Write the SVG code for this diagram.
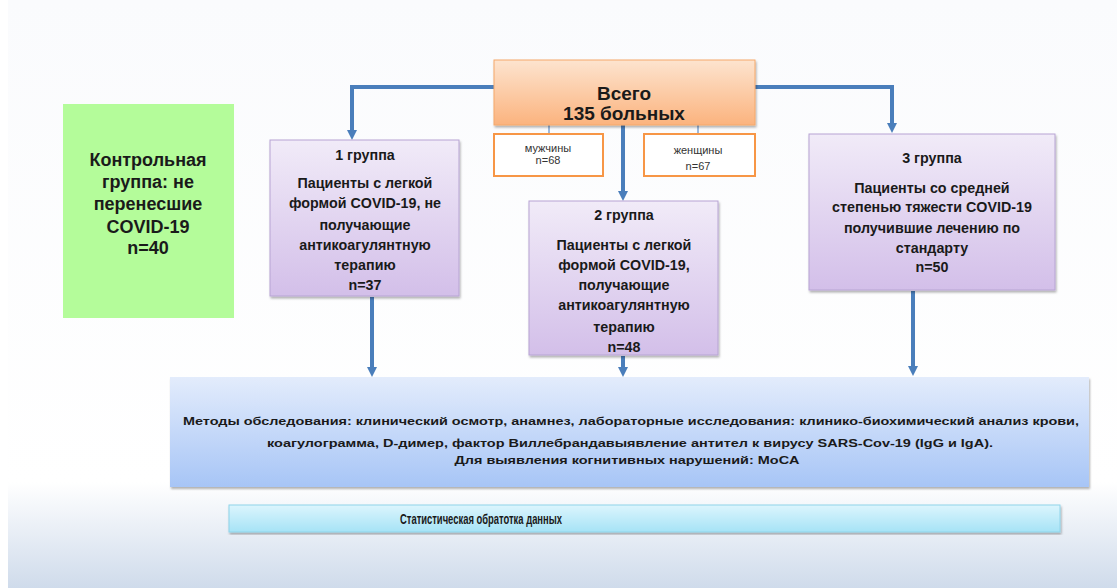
<svg xmlns="http://www.w3.org/2000/svg" width="1117" height="588" viewBox="0 0 1117 588">
<defs>
<linearGradient id="bg" x1="0" y1="0" x2="0" y2="1">
<stop offset="0" stop-color="#fafbfd"/>
<stop offset="0.82" stop-color="#ffffff"/>
<stop offset="1" stop-color="#cfdbeb"/>
</linearGradient>
<linearGradient id="org" x1="0" y1="0" x2="0" y2="1">
<stop offset="0" stop-color="#fde4cf"/>
<stop offset="1" stop-color="#fbb37e"/>
</linearGradient>
<linearGradient id="lav" x1="0" y1="0" x2="0" y2="1">
<stop offset="0" stop-color="#f1ebf8"/>
<stop offset="1" stop-color="#d3bfe9"/>
</linearGradient>
<linearGradient id="blu" x1="0" y1="0" x2="0" y2="1">
<stop offset="0" stop-color="#e3ecfc"/>
<stop offset="1" stop-color="#a7c5f6"/>
</linearGradient>
<linearGradient id="cyn" x1="0" y1="0" x2="0" y2="1">
<stop offset="0" stop-color="#dcf5fd"/>
<stop offset="1" stop-color="#a6e3f6"/>
</linearGradient>
<marker id="ah" markerWidth="10" markerHeight="10" viewBox="0 0 10 10" refX="3" refY="5" orient="auto" markerUnits="userSpaceOnUse">
<path d="M0,0 L10,5 L0,10 z" fill="#4a7ebb"/>
</marker>
<filter id="sh" x="-5%" y="-5%" width="110%" height="115%">
<feDropShadow dx="1" dy="2" stdDeviation="1.2" flood-color="#000" flood-opacity="0.3"/>
</filter>
</defs>
<style>
text{font-family:"Liberation Sans",Arial,sans-serif;font-weight:bold;fill:#1a1a1a;text-anchor:middle}
.g{font-size:14.3px}
.m{font-size:11.5px}
.small{font-size:11px;font-weight:normal;fill:#333}
.conn{stroke:#4a7ebb;stroke-width:4;fill:none}
.thin{stroke:#7fa3d0;stroke-width:1.5;fill:none}
.grp{fill:url(#lav);stroke:#b7a4d3;stroke-width:1;filter:url(#sh)}
</style>
<rect x="0" y="0" width="1117" height="588" fill="#ffffff"/>
<rect x="8" y="0" width="1109" height="588" fill="url(#bg)"/>

<g id="connectors">
<polyline class="conn" points="496,87 352,87 352,133" marker-end="url(#ah)"/>
<polyline class="conn" points="753,87 892,87 892,126" marker-end="url(#ah)"/>
<line class="conn" x1="623" y1="124" x2="623" y2="194" marker-end="url(#ah)"/>
<line class="thin" x1="549" y1="121" x2="549" y2="134"/>
<line class="thin" x1="698" y1="121" x2="698" y2="134"/>
<line class="conn" x1="372" y1="297" x2="372" y2="370" marker-end="url(#ah)"/>
<line class="conn" x1="623" y1="356" x2="623" y2="370" marker-end="url(#ah)"/>
<line class="conn" x1="913" y1="291" x2="913" y2="369" marker-end="url(#ah)"/>
</g>

<g id="total">
<rect x="494" y="60" width="261" height="65" fill="url(#org)" stroke="#f5a86a" stroke-width="1" filter="url(#sh)"/>
<text x="624" y="100" font-size="19">Всего</text>
<text x="624" y="120" font-size="19">135 больных</text>
</g>

<g id="male">
<rect x="494" y="134" width="109" height="42" fill="#ffffff" stroke="#f79646" stroke-width="2"/>
<text class="small" x="548" y="152">мужчины</text>
<text class="small" x="548" y="164">n=68</text>
</g>

<g id="female">
<rect x="644" y="134" width="111" height="42" fill="#ffffff" stroke="#f79646" stroke-width="2"/>
<text class="small" x="698" y="154">женщины</text>
<text class="small" x="698" y="170">n=67</text>
</g>

<g id="control">
<rect x="63" y="104" width="171" height="214" fill="#b4fc9a"/>
<text x="148" y="166" font-size="18">Контрольная</text>
<text x="148" y="188" font-size="18">группа: не</text>
<text x="148" y="210" font-size="18">перенесшие</text>
<text x="148" y="233" font-size="18">COVID-19</text>
<text x="148" y="254" font-size="18">n=40</text>
</g>

<g id="group1">
<rect class="grp" x="270" y="140" width="189" height="156"/>
<text class="g" x="365" y="160">1 группа</text>
<text class="g" x="365" y="188">Пациенты с легкой</text>
<text class="g" x="365" y="208">формой COVID-19, не</text>
<text class="g" x="365" y="230">получающие</text>
<text class="g" x="365" y="250">антикоагулянтную</text>
<text class="g" x="365" y="270">терапию</text>
<text class="g" x="365" y="290">n=37</text>
</g>

<g id="group2">
<rect class="grp" x="529" y="201" width="189" height="154"/>
<text class="g" x="624" y="220">2 группа</text>
<text class="g" x="624" y="250">Пациенты с легкой</text>
<text class="g" x="624" y="270">формой COVID-19,</text>
<text class="g" x="624" y="290">получающие</text>
<text class="g" x="624" y="310">антикоагулянтную</text>
<text class="g" x="624" y="332">терапию</text>
<text class="g" x="624" y="352">n=48</text>
</g>

<g id="group3">
<rect class="grp" x="809" y="134" width="246" height="156"/>
<text class="g" x="932" y="163">3 группа</text>
<text class="g" x="932" y="193">Пациенты со средней</text>
<text class="g" x="932" y="212">степенью тяжести COVID-19</text>
<text class="g" x="932" y="233">получившие лечению  по</text>
<text class="g" x="932" y="253">стандарту</text>
<text class="g" x="932" y="272">n=50</text>
</g>

<g id="methods">
<rect x="170" y="377" width="919" height="110" fill="url(#blu)" filter="url(#sh)"/>
<text class="m" x="631" y="425" textLength="896" lengthAdjust="spacingAndGlyphs">Методы обследования: клинический осмотр, анамнез, лабораторные исследования: клинико-биохимический анализ крови,</text>
<text class="m" x="630" y="447" textLength="726" lengthAdjust="spacingAndGlyphs">коагулограмма, D-димер, фактор Виллебрандавыявление антител к вирусу SARS-Cov-19 (IgG и IgA).</text>
<text class="m" x="627" y="464" textLength="345" lengthAdjust="spacingAndGlyphs">Для выявления когнитивных нарушений: MoCA</text>
</g>

<g id="stats">
<rect x="229" y="505" width="831" height="27" fill="url(#cyn)" stroke="#8fd4ea" stroke-width="1" filter="url(#sh)"/>
<text x="481" y="524" font-size="14" textLength="162" lengthAdjust="spacingAndGlyphs">Статистическая обратотка данных</text>
</g>
</svg>
